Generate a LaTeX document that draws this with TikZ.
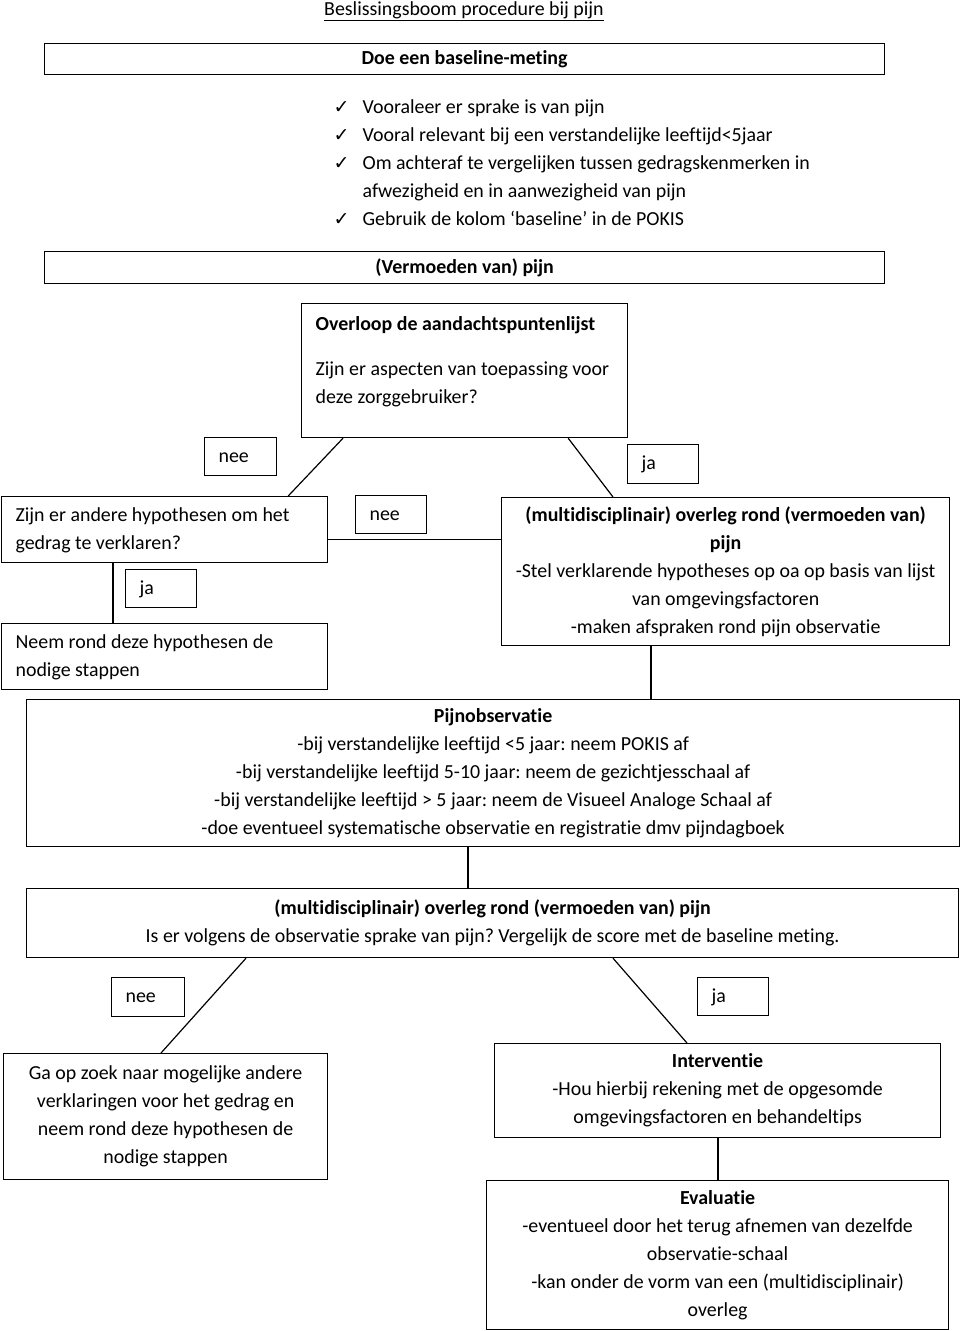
\documentclass[tikz,border=0pt]{standalone}
\usepackage{fontspec}
\setmainfont{Carlito}[Ligatures=CommonOff]
\newfontfamily\checkfont{DejaVu Sans}
\newcommand{\chk}{\makebox[29pt][l]{\checkfont\fontsize{19}{19}\selectfont ✓}}
\newcommand{\leftlines}[2]{\makebox[#1][l]{\begin{tabular}{@{}l@{}}#2\end{tabular}}}
\frenchspacing

\begin{document}
\begin{tikzpicture}[
  x=1pt, y=-1pt,
  font=\fontsize{19.9}{28}\selectfont,
  line width=1.2pt,
  box/.style={rectangle, draw=black, line width=1.2pt, anchor=north west, inner sep=0pt, align=center},
  lbox/.style={rectangle, draw=black, line width=1.2pt, anchor=north west, inner xsep=14pt, inner ysep=0pt},
  tag/.style={rectangle, draw=black, line width=1.2pt, anchor=north west, inner xsep=14pt, inner ysep=0pt},
  plain/.style={anchor=north west, inner sep=0pt, align=left}
]
\useasboundingbox (0,0) rectangle (960,1331);

% Title and baseline
\node[anchor=base, inner sep=0pt] (title) at (464,15) {\underline{Beslissingsboom procedure bij pijn}};
\node[box, minimum width=840pt, minimum height=31pt] (doe) at (44,43) {\textbf{Doe een baseline-meting}};
\node[plain] (list) at (333,99) {\chk Vooraleer er sprake is van pijn\\
\chk Vooral relevant bij een verstandelijke leeftijd<5jaar\\
\chk Om achteraf te vergelijken tussen gedragskenmerken in\\
\hspace*{29pt}afwezigheid en in aanwezigheid van pijn\\
\chk Gebruik de kolom ‘baseline’ in de POKIS};

% Suspicion and checklist
\node[box, minimum width=840pt, minimum height=32pt] (pijn) at (44,251) {\textbf{(Vermoeden van) pijn}};
\node[lbox, minimum height=134pt] (ovl) at (301,303) {\leftlines{298pt}{\textbf{Overloop de aandachtspuntenlijst}\\[17pt]
Zijn er aspecten van toepassing voor\\
deze zorggebruiker?\\[19pt]}};
\node[tag, minimum height=38pt] (neeA) at (204,437) {\leftlines{44pt}{nee}};
\node[tag, minimum height=39pt] (jaA) at (627,444) {\leftlines{43pt}{ja}};

% Hypotheses branch
\node[lbox, minimum height=66pt] (hyp) at (1,496) {\leftlines{298pt}{Zijn er andere hypothesen om het\\
gedrag te verklaren?}};
\node[tag, minimum height=38pt] (neeB) at (355,495) {\leftlines{43pt}{nee}};
\node[box, minimum width=448pt, minimum height=148pt] (mdo) at (501,497) {\textbf{(multidisciplinair) overleg rond (vermoeden van)}\\
\textbf{pijn}\\
-Stel verklarende hypotheses op oa op basis van lijst\\
van omgevingsfactoren\\
-maken afspraken rond pijn observatie};
\node[tag, minimum height=38pt] (jaB) at (125,569) {\leftlines{43pt}{ja}};
\node[lbox, minimum height=66pt] (neem) at (1,623) {\leftlines{298pt}{Neem rond deze hypothesen de\\
nodige stappen}};

% Observation
\node[box, minimum width=933pt, minimum height=147pt] (pobs) at (26,699) {\textbf{Pijnobservatie}\\
-bij verstandelijke leeftijd <5 jaar: neem POKIS af\\
-bij verstandelijke leeftijd 5-10 jaar: neem de gezichtjesschaal af\\
-bij verstandelijke leeftijd > 5 jaar: neem de Visueel Analoge Schaal af\\
-doe eventueel systematische observatie en registratie dmv pijndagboek};
\node[box, minimum width=932pt, minimum height=69pt] (ovl2) at (26,888) {\textbf{(multidisciplinair) overleg rond (vermoeden van) pijn}\\
Is er volgens de observatie sprake van pijn? Vergelijk de score met de baseline meting.};
\node[tag, minimum height=39pt] (neeC) at (111,977) {\leftlines{45pt}{nee}};
\node[tag, minimum height=38pt] (jaC) at (697,977) {\leftlines{43pt}{ja}};

% Outcome
\node[box, minimum width=324pt, minimum height=126pt] (zoek) at (3,1053) {Ga op zoek naar mogelijke andere\\
verklaringen voor het gedrag en\\
neem rond deze hypothesen de\\
nodige stappen};
\node[box, minimum width=446pt, minimum height=94pt] (intv) at (494,1043) {\textbf{Interventie}\\
-Hou hierbij rekening met de opgesomde\\
omgevingsfactoren en behandeltips};
\node[box, minimum width=462pt, minimum height=149pt] (eval) at (486,1180) {\textbf{Evaluatie}\\
-eventueel door het terug afnemen van dezelfde\\
observatie-schaal\\
-kan onder de vorm van een (multidisciplinair)\\
overleg};

% Connectors
\draw ([xshift=42pt]ovl.south west) -- ([xshift=-40pt]hyp.north east);
\draw ([xshift=-60pt]ovl.south east) -- ([xshift=112pt]mdo.north west);
\coordinate (h3) at ([yshift=-10pt]hyp.east);
\draw (h3) -- (h3 -| mdo.west);
\coordinate (h4) at ([xshift=112pt]hyp.south west);
\draw (h4) -- (h4 |- neem.north);
\coordinate (h5) at ([xshift=150pt]mdo.south west);
\draw (h5) -- (h5 |- pobs.north);
\coordinate (h6) at ([xshift=442pt]pobs.south west);
\draw (h6) -- (h6 |- ovl2.north);
\draw ([xshift=220pt]ovl2.south west) -- ([xshift=158pt]zoek.north west);
\draw ([xshift=587pt]ovl2.south west) -- ([xshift=193pt]intv.north west);
\coordinate (h9) at ([xshift=224pt]intv.south west);
\draw (h9) -- (h9 |- eval.north);

\end{tikzpicture}
\end{document}
